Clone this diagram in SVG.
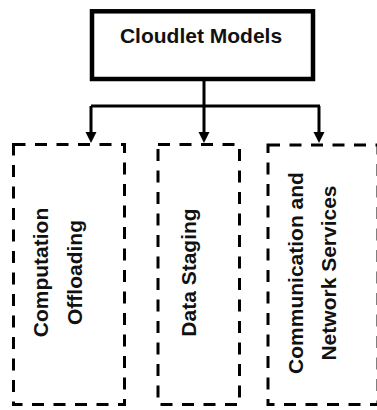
<svg xmlns="http://www.w3.org/2000/svg" width="377" height="410" viewBox="0 0 377 410">
<style>
.lbl{font-family:"Liberation Sans",Arial,sans-serif;font-weight:bold;font-size:21px;fill:#111;text-anchor:middle}
.dash{fill:none;stroke:#000;stroke-width:3;stroke-dasharray:12 9.5}
.conn{fill:none;stroke:#000;stroke-width:3}
</style>
<defs>
<marker id="arr" markerUnits="userSpaceOnUse" markerWidth="12" markerHeight="11" refX="6" refY="10" orient="auto-start-reverse" viewBox="0 0 12 11">
<path d="M0,0 L12,0 L6,10 Z" fill="#000"/>
</marker>
</defs>
<rect width="377" height="410" fill="#fff"/>
<g id="cloudlet-models">
<rect x="92" y="11.3" width="221" height="67.7" fill="#fff" stroke="#000" stroke-width="4.5"/>
<text class="lbl" x="201" y="43">Cloudlet Models</text>
</g>
<g id="connectors">
<path class="conn" d="M204,81 V106 M91,106 H320"/>
<path class="conn" d="M91,106 V134" />
<path class="conn" d="M204,106 V134" />
<path class="conn" d="M319,106 V134" />
<path d="M85.5,132 H96.5 L91,143 Z" fill="#000"/>
<path d="M198.5,132 H209.5 L204,143 Z" fill="#000"/>
<path d="M313.5,132 H324.5 L319,143 Z" fill="#000"/>
</g>
<g id="computation-offloading">
<rect class="dash" x="13.5" y="144.5" width="111" height="260"/>
<text class="lbl" transform="translate(48,272.5) rotate(-90)">Computation</text>
<text class="lbl" transform="translate(82,272.5) rotate(-90)">Offloading</text>
</g>
<g id="data-staging">
<rect class="dash" x="158" y="144.5" width="81.5" height="260"/>
<text class="lbl" transform="translate(196,272.5) rotate(-90)">Data Staging</text>
</g>
<g id="communication-network-services">
<rect class="dash" x="268" y="145" width="110" height="259.5"/>
<text class="lbl" transform="translate(303,273) rotate(-90)">Communication and</text>
<text class="lbl" transform="translate(336,273) rotate(-90)">Network Services</text>
</g>
</svg>
